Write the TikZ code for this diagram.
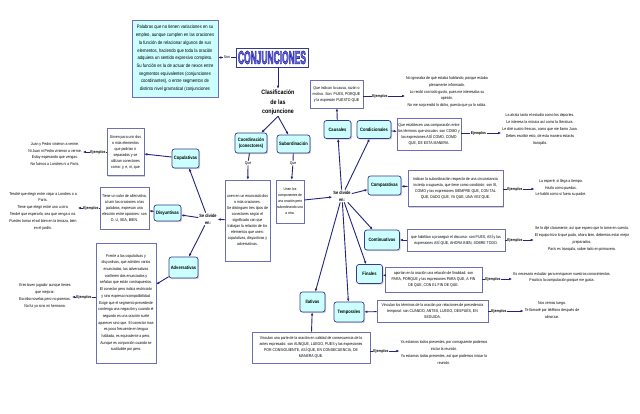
\documentclass[tikz,border=0pt]{standalone}
\usepackage{fontspec}
\setmainfont{Liberation Sans}[FakeStretch=0.85]
\usepackage{graphicx}
\usetikzlibrary{arrows.meta,shadows}
\definecolor{conbg}{HTML}{CCFFFF}
\definecolor{conline}{HTML}{3A3A8C}
\definecolor{boxline}{HTML}{6E6EB4}
\definecolor{linkcol}{HTML}{24247A}
\definecolor{titleblue}{HTML}{6A6AE8}
\begin{document}
\begin{tikzpicture}[x=1pt,y=-1pt,
  shade box/.style={drop shadow={shadow xshift=1.2pt,shadow yshift=-1.2pt,fill=black!35}},
  concept/.style={draw=conline,fill=conbg,rounded corners=2.5pt,line width=0.7pt,shade box,
    font=\fontsize{4.8}{5.8}\selectfont\bfseries,align=center,inner sep=1pt},
  descbox/.style={draw=boxline,fill=white,line width=0.6pt,shade box,align=center,
    inner sep=1pt,font=\fontsize{4.1}{6}\selectfont},
  extext/.style={align=center,inner sep=1pt,font=\fontsize{4.1}{6.8}\selectfont},
  ejlbl/.style={inner sep=0.5pt,font=\fontsize{4}{5}\selectfont\bfseries},
  smalltxt/.style={inner sep=0.5pt,font=\fontsize{4}{5}\selectfont},
  divtxt/.style={align=center,inner sep=1pt,font=\fontsize{4.6}{7}\selectfont\bfseries},
  link/.style={draw=linkcol,line width=0.9pt,-{Latex[length=3pt,width=2.6pt]}},
  plain/.style={draw=linkcol,line width=0.9pt}]
\fill[white] (0,0) rectangle (640,414);
\useasboundingbox (0,0) rectangle (640,414);

\node[descbox,fill=conbg,minimum width=86pt,minimum height=77pt,font=\fontsize{4.9}{7.7}\selectfont] (defbox) at (175,58.5)
  {Palabras que no tienen variaciones en su\\empleo, aunque cumplen en las oraciones\\la función de relacionar algunos de sus\\elementos, haciendo que toda la oración\\adquiera un sentido expresivo completo.\\Su función es la de actuar de nexos entre\\segmentos equivalentes (conjunciones\\coordinantes), o entre segmentos de\\distinto nivel gramatical (conjunciones};
\node[draw=conline,fill=white,line width=0.7pt,shade box,minimum width=72pt,minimum height=19pt,inner sep=0pt] (title) at (272,57.5)
  {\resizebox{68pt}{13pt}{\bfseries\color{titleblue}\special{pdf:literal direct 2 Tr 0.35 w 0.15 0.15 0.6 RG}CONJUNCIONES\special{pdf:literal direct 0 Tr}}};
\node[align=center,inner sep=1pt,font=\fontsize{6.3}{9.6}\selectfont\bfseries] (clasif) at (278,102.5) {Clasificación\\de las\\conjuncione};

\draw[link] (title.west) -- node[smalltxt,fill=white] {Son} (title.west -| defbox.east);
\draw[link] (clasif.north |- title.south) -- (clasif);

\node[concept,minimum width=32pt,minimum height=20pt] (coord) at (251,143) {Coordinación\\(conectores)};
\node[concept,minimum width=33pt,minimum height=18pt] (subord) at (293.5,144) {Subordinación};
\draw[link] (clasif.south) -- (coord);
\draw[link] (clasif.south) -- (subord);

\node[smalltxt] (queA) at (248,163) {Que};
\node[smalltxt] (queB) at (293,163) {Que};
\node[descbox,minimum width=45pt,minimum height=81pt] (coorddesc) at (247.5,220.5)
  {unen en un enunciado dos\\o más oraciones.\\Se distinguen tres tipos de\\conectores según el\\significado con que\\trabajan la relación de los\\elementos que unen:\\copulativas, disyuntivas y\\adversativas.};
\node[descbox,minimum width=28pt,minimum height=43pt,font=\fontsize{3.8}{6}\selectfont] (subdesc) at (290,201.5)
  {Unen los\\componentes de\\una oración pero\\subordinando una\\a otra.};
\draw[plain] (coord) -- (queA);
\draw[link] (queA) -- (coorddesc);
\draw[plain] (subord) -- (queB);
\draw[link] (queB) -- (subdesc);

% coordinantes
\node[divtxt] (divL) at (208,219) {Se divide\\en:};
\node[concept,minimum width=27pt,minimum height=19pt] (copul) at (185.5,158.5) {Copulativas};
\node[concept,minimum width=27pt,minimum height=16pt] (disy) at (167.5,213) {Disyuntivas};
\node[concept,minimum width=29pt,minimum height=21pt] (adver) at (183.5,267.5) {Adversativas};
\draw[link] (coorddesc) -- (divL);
\draw[link] (divL) -- (copul);
\draw[link] (divL) -- (disy);
\draw[link] (divL) -- (adver);

\node[descbox,minimum width=37pt,minimum height=47pt] (copdesc) at (125.5,152)
  {Sirven para unir dos\\o más elementos\\que podrían ir\\separados y se\\utilizan conectores\\como: y, e, ni, que};
\node[descbox,minimum width=49pt,minimum height=42pt] (disdesc) at (124.5,208)
  {Tiene un valor de alternativa,\\al unir las oraciones o las\\palabras, expresan una\\elección entre opciones: son\\O, U, SEA, BIEN.};
\node[descbox,minimum width=60pt,minimum height=120pt,font=\fontsize{4.1}{6.7}\selectfont] (advdesc) at (126,303)
  {Frente a las copulativas y\\disyuntivas, que admiten varios\\enunciados, las adversativas\\confieren dos enunciados y\\señalan que están contrapuestos.\\El conector pero indica restricción\\y sino expresa incompatibilidad.\\Exige que el segmento precedente\\contenga una negación y cuando el\\segundo es una oración suele\\aparecer sino que. El conector mas\\es poco frecuente en lengua\\hablada, es equivalente a pero.\\Aunque es conjunción cuando se\\sustituible por pero.};
\draw[link] (copul) -- (copdesc);
\draw[link] (disy) -- (disdesc);
\draw[link] (adver) -- (advdesc);

\node[ejlbl] (copej) at (98,152) {Ejemplos};
\node[ejlbl] (disej) at (91,208) {Ejemplos};
\node[ejlbl] (advej) at (84,297) {Ejemplos};
\node[extext] (copex) at (55,154) {Juan y Pedro vinieron a verme.\\Ni Juan ni Pedro vinieron a verme.\\Estoy esperando que vengas.\\No fuimos a Londres ni a París.};
\node[extext] (disex) at (43,211) {Tendré que elegir entre viajar a Londres o a\\París.\\Tiene que elegir entre uno u otro.\\Tendré que esperarlo, sea que venga o no.\\Puedes tomar el sol bien en la terraza, bien\\en el jardín.};
\node[extext] (advex) at (45,296) {Eres buen jugador aunque tienes\\que mejorar.\\Escribo novelas pero no poemas.\\No fui yo sino mi hermano.};
\draw[plain] (copdesc.west |- copej) -- (copej.east);
\draw[link] (copej.west) -- (copej -| copex.east);
\draw[plain] (disdesc.west |- disej) -- (disej.east);
\draw[link] (disej.west) -- (disej -| disex.east);
\draw[plain] (advdesc.west |- advej) -- (advej.east);
\draw[link] (advej.west) -- (advej -| advex.east);

% subordinantes
\node[divtxt] (divR) at (342,196) {Se divide\\en:};
\draw[link] (subdesc) -- (divR);
\node[concept,minimum width=27pt,minimum height=18pt] (caus) at (337.5,129.5) {Causales};
\node[concept,minimum width=34pt,minimum height=18pt] (cond) at (374,129.5) {Condicionales};
\node[concept,minimum width=33pt,minimum height=19pt] (comp) at (384.5,185.5) {Comparativas};
\node[concept,minimum width=35pt,minimum height=20pt] (cont) at (382,240) {Continuativas};
\node[concept,minimum width=26pt,minimum height=19pt] (fin) at (369.5,274) {Finales};
\node[concept,minimum width=30pt,minimum height=20pt] (temp) at (349,312) {Temporales};
\node[concept,minimum width=25pt,minimum height=20pt] (ilat) at (312.5,302) {Ilativas};
\foreach \c in {caus,cond,comp,cont,fin,temp,ilat}
  \draw[link] (divR) -- (\c);

\node[descbox,minimum width=53pt,minimum height=28pt] (causdesc) at (336.5,94)
  {Que indican la causa, razón o\\motivo. Son: PUES, PORQUE\\y la expresión PUESTO QUE};
\node[descbox,minimum width=62pt,minimum height=32pt] (conddesc) at (429,134)
  {Que establecen una comparación entre\\los términos que vinculan: son COMO y\\las expresiones ASÍ COMO, COMO\\QUE, DE ESTA MANERA.};
\node[descbox,minimum width=95pt,minimum height=36pt] (compdesc) at (455.5,188.5)
  {Indican la subordinación respecto de una circunstancia\\incierta o supuesta, que tiene como condición: son SI,\\COMO y las expresiones SIEMPRE QUE, CON TAL\\QUE, DADO QUE, YA QUE, UNA VEZ QUE.};
\node[descbox,minimum width=98pt,minimum height=22pt] (contdesc) at (456,240)
  {que habilitan a proseguir el discurso: son PUES, ASÍ y las\\expresiones ASÍ QUE, AHORA BIEN, SOBRE TODO.};
\node[descbox,minimum width=97pt,minimum height=25pt] (findesc) at (433.5,279.5)
  {aportan en la oración una relación de finalidad: son\\PARA, PORQUE y las expresiones PARA QUE, A FIN\\DE QUE, CON EL FIN DE QUE.};
\node[descbox,minimum width=111pt,minimum height=22pt] (tempdesc) at (432.5,311)
  {Vinculan los términos de la oración por relaciones de precedencia\\temporal: son CUANDO, ANTES, LUEGO, DESPUÉS, EN\\SEGUIDA.};
\node[descbox,minimum width=118pt,minimum height=31pt] (ilatdesc) at (311,347.5)
  {Vinculan una parte de la oración en calidad de consecuencia de lo\\antes expresado: son AUNQUE, LUEGO, PUES y las expresiones\\POR CONSIGUIENTE, ASÍ QUE, EN CONSECUENCIA, DE\\MANERA QUE.};
\draw[link] (caus) -- (causdesc);
\draw[link] (cond) -- (conddesc);
\draw[link] (compdesc) -- (comp);
\draw[link] (contdesc) -- (cont);
\draw[link] (findesc) -- (fin);
\draw[link] (tempdesc) -- (temp);
\draw[link] (ilatdesc) -- (ilat);

\node[ejlbl] (causej) at (380,96) {Ejemplos};
\node[ejlbl] (condej) at (478.5,133) {Ejemplos};
\node[ejlbl] (compej) at (515,189) {Ejemplos};
\node[ejlbl] (contej) at (515,240) {Ejemplos};
\node[ejlbl] (finej) at (493,279) {Ejemplos};
\node[ejlbl] (tempej) at (499,311) {Ejemplos};
\node[ejlbl] (ilatej) at (381,351) {Ejemplos};
\node[extext] (causex) at (447,92) {No ignoraba de qué estaba hablando, porque estaba\\plenamente informado.\\Lo recibí con todo gusto, pues me interesaba su\\opinión.\\No me sorprendió lo dicho, puesto que ya lo sabía.};
\node[extext] (condex) at (540,129.5) {La atraía tanto el estudio como los deportes.\\Le interesa la música así como la literatura.\\Le diré cuatro frescas, como que me llamo Juan.\\Debes escribir esto, de esta manera estarás\\tranquilo.};
\node[extext] (compex) at (561,188) {La esperé, si llega a tiempo.\\Hazlo como puedas.\\Le habló como si fuera su padre.};
\node[extext] (contex) at (582,239) {Se lo dije claramente, así que espero que lo tome en cuenta.\\El equipo hizo lo que pudo, ahora bien, debemos estar mejor\\preparados.\\París es tranquila, sobre todo en primavera.};
\node[extext] (finex) at (562,277.5) {Es necesario estudiar para enriquecer nuestros conocimientos.\\Practico la computación porque me gusta.};
\node[extext] (tempex) at (552,310) {Nos vemos luego.\\Te llamaré por teléfono después de\\almorzar.};
\node[extext] (ilatex) at (444,352.5) {Ya estamos todos presentes, por consiguiente podemos\\iniciar la reunión.\\Ya estamos todos presentes, así que podemos iniciar la\\reunión.};
\foreach \d/\e/\x in {causdesc/causej/causex,conddesc/condej/condex,compdesc/compej/compex,
    contdesc/contej/contex,findesc/finej/finex,tempdesc/tempej/tempex,ilatdesc/ilatej/ilatex}{
  \draw[plain] (\d.east |- \e) -- (\e.west);
  \draw[link] (\e.east) -- (\e -| \x.west);
}
\end{tikzpicture}
\end{document}
